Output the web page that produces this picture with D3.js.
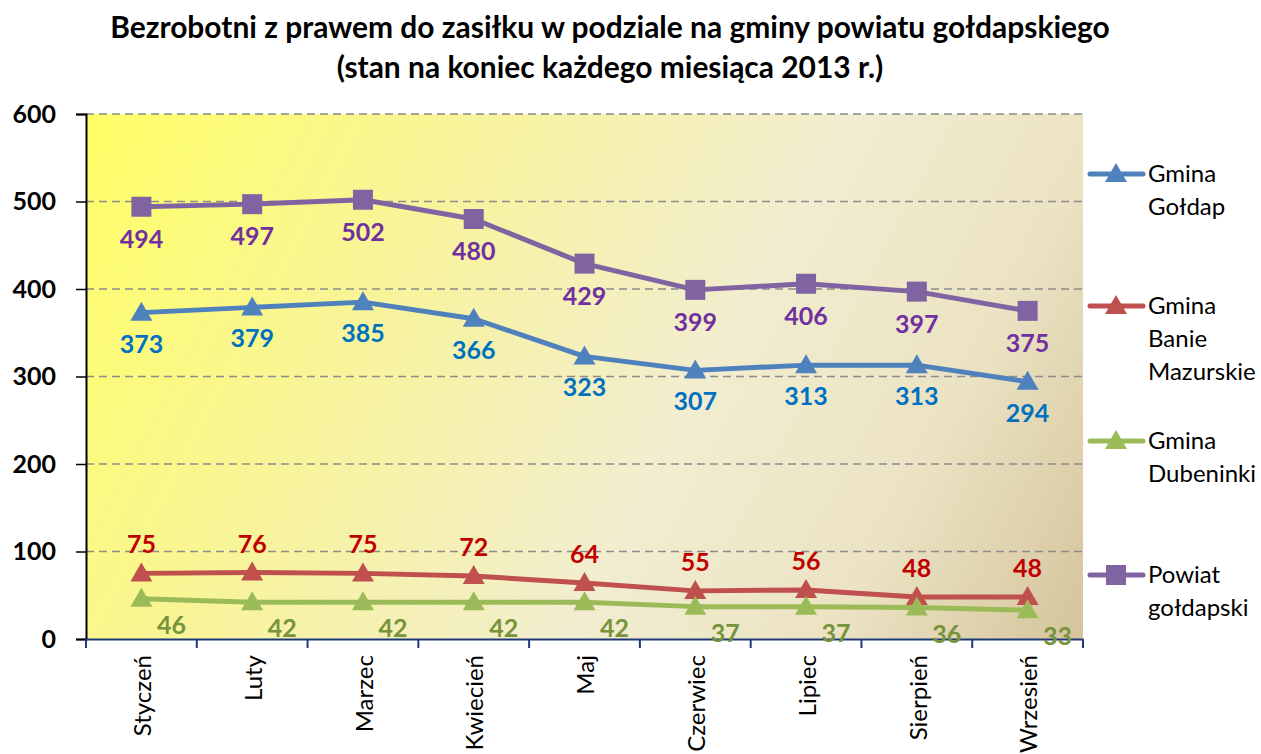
<!DOCTYPE html>
<html><head><meta charset="utf-8">
<script src="https://cdn.jsdelivr.net/npm/d3@7"></script>
<style>body{margin:0;background:#fff}svg{display:block}</style>
</head><body>
<svg id="c" width="1261" height="754"></svg>
<script>
const categories = ["Styczeń","Luty","Marzec","Kwiecień","Maj","Czerwiec","Lipiec","Sierpień","Wrzesień"];
const seriesNames = ["Gmina Gołdap","Gmina Banie Mazurskie","Gmina Dubeninki","Powiat gołdapski"];
const goldap = [373,379,385,366,323,307,313,313,294];
const banie = [75,76,75,72,64,55,56,48,48];
const dubeninki = [46,42,42,42,42,37,37,36,33];
const powiat = [494,497,502,480,429,399,406,397,375];
const yTicks = [0,100,200,300,400,500,600];
const titleLines = ["Bezrobotni z prawem do zasiłku w podziale na gminy powiatu gołdapskiego","(stan na koniec każdego miesiąca 2013 r.)"];

const FONT = "Lato, 'Open Sans', sans-serif";
const svg = d3.select("#c");
const L = 86, R = 1083, T = 114, B = 639;
const x = d3.scaleBand().domain(categories).range([L, R]);
const y = d3.scaleLinear().domain([0, 600]).range([B, T]);

// background gradient
const defs = svg.append("defs");
const g = defs.append("linearGradient").attr("id","bg").attr("gradientUnits","userSpaceOnUse")
  .attr("x1",L).attr("y1",T).attr("x2",R).attr("y2",B);
[[0,"#FFFF66"],[0.3,"#F8F49A"],[0.6,"#F2EDD0"],[0.8,"#EBE3C3"],[1,"#D5C49C"]].forEach(([o,c])=>
  g.append("stop").attr("offset",o).attr("stop-color",c));
svg.append("rect").attr("x",L).attr("y",T).attr("width",R-L).attr("height",B-T).attr("fill","url(#bg)");

// grid
svg.append("g").selectAll("line").data(yTicks.filter(d=>d>0)).join("line")
  .attr("x1",L).attr("x2",R).attr("y1",d=>y(d)).attr("y2",d=>y(d))
  .attr("stroke","#8C8C8C").attr("stroke-width",1.5).attr("stroke-dasharray","8,5");

// y axis
const ya = svg.append("g").attr("transform",`translate(${L},0)`)
  .call(d3.axisLeft(y).tickValues(yTicks).tickSize(10).tickPadding(20));
ya.select(".domain").attr("stroke","#000").attr("stroke-width",2);
ya.selectAll(".tick line").attr("stroke","#000").attr("stroke-width",1.5);
ya.selectAll("text").attr("font-family",FONT).attr("font-weight","bold").attr("font-size",25).attr("fill","#000");

// x axis
const xa = svg.append("g").attr("transform",`translate(0,${B})`)
  .call(d3.axisBottom(x).tickSize(0).tickPadding(0));
xa.select(".domain").attr("stroke","#1F3A7A").attr("stroke-width",2);
xa.selectAll(".tick text").attr("font-family",FONT).attr("font-size",24).attr("fill","#000")
  .attr("text-anchor","end").attr("transform","translate(2,16) rotate(-90)").attr("dy","0.32em").attr("dx",0).attr("y",0);
svg.append("g").selectAll("line").data(d3.range(categories.length+1)).join("line")
  .attr("x1",i=>L+i*x.step()).attr("x2",i=>L+i*x.step()).attr("y1",B).attr("y2",B+9)
  .attr("stroke","#1F3A7A").attr("stroke-width",2);

const series = [
  {name:seriesNames[0], data:goldap, color:"#4F81BD", lab:"#0070C0", marker:"tri", dx:0, dy:31},
  {name:seriesNames[1], data:banie, color:"#C0504D", lab:"#C00000", marker:"tri", dx:0, dy:-29},
  {name:seriesNames[2], data:dubeninki, color:"#9BBB59", lab:"#77933C", marker:"tri", dx:30, dy:26},
  {name:seriesNames[3], data:powiat, color:"#8064A2", lab:"#7030A0", marker:"sq", dx:0, dy:32},
];
const cx = c => x(c) + x.bandwidth()/2;
const line = d3.line().x((d,i)=>cx(categories[i])).y(d=>y(d));
const triPath = "M0,-11L11,8L-11,8Z";
const sqPath = "M-10,-10H10V10H-10Z";

series.forEach(s=>{
  svg.append("path").datum(s.data).attr("d",line).attr("fill","none")
    .attr("stroke",s.color).attr("stroke-width",5).attr("stroke-linejoin","round");
  svg.append("g").selectAll("path").data(s.data).join("path")
    .attr("d", s.marker==="tri"?triPath:sqPath)
    .attr("transform",(d,i)=>`translate(${cx(categories[i])},${y(d)})`)
    .attr("fill",s.color);
});
series.forEach(s=>{
  svg.append("g").selectAll("text").data(s.data).join("text")
    .attr("x",(d,i)=>cx(categories[i])+s.dx).attr("y",d=>y(d)+s.dy)
    .attr("dy","0.36em").attr("text-anchor","middle")
    .attr("font-family",FONT).attr("font-weight","bold").attr("font-size",25)
    .attr("fill",s.lab).text(d=>d);
});

// legend
const legendY = [174, 306, 441, 575];
const legendLines = [["Gmina","Gołdap"],["Gmina","Banie","Mazurskie"],["Gmina","Dubeninki"],["Powiat","gołdapski"]];
series.forEach((s,i)=>{
  const gy = legendY[i];
  const lg = svg.append("g");
  lg.append("line").attr("x1",1090).attr("x2",1143).attr("y1",gy).attr("y2",gy)
    .attr("stroke",s.color).attr("stroke-width",5).attr("stroke-linecap","round");
  lg.append("path").attr("d", s.marker==="tri"?triPath:sqPath)
    .attr("transform",`translate(1116,${gy})`).attr("fill",s.color);
  lg.selectAll("text").data(legendLines[i]).join("text")
    .attr("x",1148).attr("y",(d,j)=>gy + j*33).attr("dy","0.35em")
    .attr("font-family",FONT).attr("font-size",24).attr("fill","#000").text(d=>d);
});

// title
const tw = 1000;
let titleFs = 24;
titleLines.forEach((t,i)=>{
  const el = svg.append("text").attr("x",610).attr("y",[28,68][i]).attr("dy","0.35em")
    .attr("text-anchor","middle").attr("font-family",FONT).attr("font-weight","bold")
    .attr("font-size",24).attr("fill","#000").text(t);
  if (i===0) {
    const w = el.node().getComputedTextLength();
    titleFs = 24*tw/w;
  }
  el.attr("font-size",titleFs);
});
</script>
</body></html>
